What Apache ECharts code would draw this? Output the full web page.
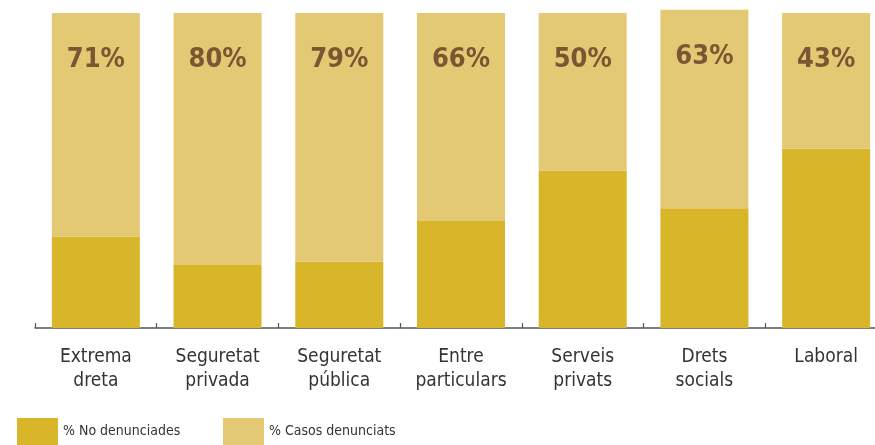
<!DOCTYPE html>
<html>
<head>
<meta charset="utf-8">
<script src="https://cdn.jsdelivr.net/npm/echarts@6/dist/echarts.min.js"></script>
<style>
html,body{margin:0;padding:0;background:#fff;overflow:hidden;width:875px;height:445px;}
#chart{width:887px;height:445px;}
</style>
</head>
<body>
<div id="chart"></div>
<script>
var categories = ['Extrema\ndreta', 'Seguretat\nprivada', 'Seguretat\npública', 'Entre\nparticulars', 'Serveis\nprivats', 'Drets\nsocials', 'Laboral'];
var noDenunciades = [29, 20, 21, 34, 50, 38, 57];
var casosDenunciats = [71, 80, 79, 66, 50, 63, 43];
var seriesNames = ['% No denunciades', '% Casos denunciats'];

var chart = echarts.init(document.getElementById('chart'));
var narrow = '"DejaVu Sans Condensed", "Liberation Sans Narrow", "Liberation Sans", sans-serif';
chart.setOption({
  animation: false,
  grid: {left: 35, right: 0, top: 13, height: 315, containLabel: false},
  legend: [
    {data: [seriesNames[0]], left: 17, top: 418, padding: 0, itemWidth: 41, itemHeight: 27, itemGap: 0,
     textStyle: {fontFamily: narrow, fontSize: 14, color: '#333'}, icon: 'rect'},
    {data: [seriesNames[1]], left: 223, top: 418, padding: 0, itemWidth: 41, itemHeight: 27, itemGap: 0,
     textStyle: {fontFamily: narrow, fontSize: 14, color: '#333'}, icon: 'rect'}
  ],
  xAxis: {
    type: 'category',
    data: categories,
    axisLine: {lineStyle: {color: '#555', width: 1.5}},
    axisTick: {show: true, inside: true, length: 5, alignWithLabel: false, lineStyle: {color: '#555', width: 1.2}},
    axisLabel: {fontFamily: narrow, fontSize: 19, color: '#333', lineHeight: 24, margin: 17, interval: 0}
  },
  yAxis: {type: 'value', min: 0, max: 100, show: false, splitLine: {show: false}},
  series: [
    {name: seriesNames[0], type: 'bar', stack: 'total', data: noDenunciades, barWidth: 88, clip: false,
     itemStyle: {color: '#D9B52A'}},
    {name: seriesNames[1], type: 'bar', stack: 'total', data: casosDenunciats, barWidth: 88, clip: false,
     itemStyle: {color: '#E3C973'},
     label: {show: true, position: ['50%', 47], align: 'center', verticalAlign: 'middle',
       formatter: '{c}%', fontFamily: narrow, fontWeight: 'bold', fontSize: 27, color: '#7A5633'}}
  ]
});
</script>
</body>
</html>
